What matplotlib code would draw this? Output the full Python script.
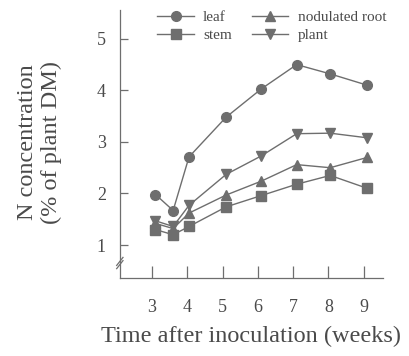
import matplotlib
matplotlib.use("Agg")
import matplotlib.pyplot as plt

# sampling times (weeks after inoculation)
weeks = [3.1, 3.6, 4.05, 5.1, 6.1, 7.1, 8.05, 9.1]
leaf = [1.98, 1.67, 2.71, 3.48, 4.03, 4.50, 4.32, 4.10]
stem = [1.30, 1.20, 1.36, 1.74, 1.96, 2.18, 2.35, 2.10]
nod_root = [1.42, 1.32, 1.62, 1.97, 2.24, 2.56, 2.50, 2.70]
plant = [1.47, 1.36, 1.77, 2.37, 2.73, 3.16, 3.17, 3.08]
xticks = [3, 4, 5, 6, 7, 8, 9]
yticks = [1, 2, 3, 4, 5]

plt.rcParams['font.family'] = ['Liberation Serif', 'DejaVu Serif']
grey = '#6e6e6e'
txt = '#4a4a4a'

fig = plt.figure(figsize=(4.09, 3.56), dpi=100)
ax = fig.add_axes([0.293, 0.219, 0.643, 0.753])

kw = dict(color=grey, lw=1.0, ms=7, mec=grey, mfc=grey)
ax.plot(weeks, leaf, marker='o', label='leaf', **kw)
ax.plot(weeks, stem, marker='s', label='stem', **kw)
ax.plot(weeks, nod_root, marker='^', label='nodulated root', **kw)
ax.plot(weeks, plant, marker='v', label='plant', **kw)

ax.set_xlim(2.09, 9.54)
ax.set_ylim(0.36, 5.56)
ax.set_xticks(xticks)
ax.set_yticks(yticks)
ax.spines['top'].set_visible(False)
ax.spines['right'].set_visible(False)
for s in ('left', 'bottom'):
    ax.spines[s].set_color(grey)
    ax.spines[s].set_linewidth(0.9)
ax.tick_params(axis='x', direction='in', length=9, width=0.9, color=grey,
               labelsize=13, labelcolor=txt, pad=15)
ax.tick_params(axis='y', direction='in', length=6, width=0.9, color=grey,
               labelsize=13, labelcolor=txt, pad=10)

ax.set_xlabel('Time after inoculation (weeks)', fontsize=17.5, color=txt)
ax.set_ylabel('N concentration\n(% of plant DM)', fontsize=17.5, color=txt,
              linespacing=1.15)
ax.xaxis.set_label_coords(0.498, -0.18)
ax.yaxis.set_label_coords(-0.22, 0.507)

# axis break marks
for dy in (0.0, 0.012):
    ax.plot([-0.012, 0.012], [0.05 + dy - 0.015, 0.05 + dy + 0.015],
            transform=ax.transAxes, color=grey, lw=0.9, clip_on=False)

leg = ax.legend(ncol=2, loc='upper left', bbox_to_anchor=(0.09, 1.05),
                frameon=False, fontsize=11, handlelength=2.4,
                columnspacing=1.3, labelspacing=0.3, handletextpad=0.6)
for t in leg.get_texts():
    t.set_color(txt)

fig.savefig('out.png', dpi=100, facecolor='white')
